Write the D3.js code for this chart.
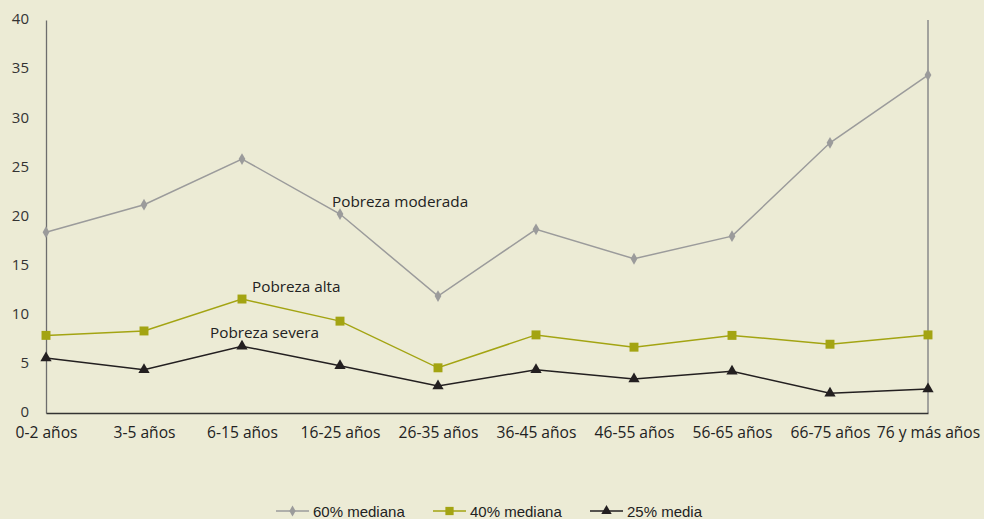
<!DOCTYPE html>
<html>
<head>
<meta charset="utf-8">
<script src="https://cdn.jsdelivr.net/npm/d3@7"></script>
<style>
body { margin: 0; background: #ecebd5; }
svg { display: block; }
</style>
</head>
<body>
<script>
var categories = ["0-2 años", "3-5 años", "6-15 años", "16-25 años", "26-35 años",
        "36-45 años", "46-55 años", "56-65 años", "66-75 años", "76 y más años"];
var mediana60 = [18.4, 21.2, 25.85, 20.25, 11.9, 18.7, 15.7, 18.0, 27.5, 34.4];
var mediana40 = [7.9, 8.35, 11.6, 9.35, 4.6, 7.95, 6.7, 7.9, 7.0, 7.95];
var media25 = [5.6, 4.4, 6.8, 4.8, 2.75, 4.4, 3.45, 4.25, 2.0, 2.45];
var yTicks = [0, 5, 10, 15, 20, 25, 30, 35, 40];

var width = 984, height = 519;

var svg = d3.select("body").append("svg")
        .attr("width", width)
        .attr("height", height);

svg.append("rect").attr("width", width).attr("height", height).attr("fill", "#ecebd5");

var x = d3.scalePoint().domain(categories).range([46, 928]).padding(0);
var y = d3.scaleLinear().domain([0, 40]).range([413, 20]);

var tickFont = "'Open Sans', 'Noto Sans', sans-serif";

// y axis
var yAxis = svg.append("g")
        .attr("transform", "translate(46,0)")
        .call(d3.axisLeft(y).tickValues(yTicks).tickSize(0).tickPadding(17));
yAxis.select(".domain").attr("stroke", "#6d6d6d").attr("stroke-width", 1.3);
yAxis.selectAll("text").attr("font-family", tickFont).attr("font-size", 15).attr("fill", "#333")
        .attr("dy", "0.25em");

// right vertical line
svg.append("line")
        .attr("x1", 928).attr("x2", 928)
        .attr("y1", y(40)).attr("y2", y(0))
        .attr("stroke", "#8a8a8a").attr("stroke-width", 1.5);

// x axis
var xAxis = svg.append("g")
        .attr("transform", "translate(0," + y(0) + ")")
        .call(d3.axisBottom(x).tickSize(0).tickPadding(14));
xAxis.select(".domain").attr("stroke", "#333").attr("stroke-width", 1.3);
xAxis.selectAll("text").attr("font-family", tickFont).attr("font-size", 15.6).attr("fill", "#222");

var series = [
    { name: "60% mediana", values: mediana60, color: "#9b9b9b", symbol: d3.symbolDiamond, size: 40 },
    { name: "40% mediana", values: mediana40, color: "#a3a412", symbol: d3.symbolSquare, size: 80 },
    { name: "25% media", values: media25, color: "#231f20", symbol: d3.symbolTriangle, size: 55 }
];

var line = d3.line()
        .x(function (d, i) { return x(categories[i]); })
        .y(function (d) { return y(d); });

series.forEach(function (s) {
    svg.append("path")
        .datum(s.values)
        .attr("fill", "none")
        .attr("stroke", s.color)
        .attr("stroke-width", 1.5)
        .attr("d", line);

    svg.selectAll(null)
        .data(s.values)
        .enter()
        .append("path")
        .attr("d", d3.symbol().type(s.symbol).size(s.size))
        .attr("fill", s.color)
        .attr("transform", function (d, i) {
            return "translate(" + x(categories[i]) + "," + y(d) + ")";
        });
});

// annotations
var notes = [
    { text: "Pobreza moderada", x: 332, y: 207 },
    { text: "Pobreza alta", x: 252, y: 292 },
    { text: "Pobreza severa", x: 210, y: 338 }
];
svg.selectAll(".note")
        .data(notes)
        .enter()
        .append("text")
        .attr("class", "note")
        .attr("x", function (d) { return d.x; })
        .attr("y", function (d) { return d.y; })
        .attr("font-family", tickFont)
        .attr("font-size", 15.3)
        .attr("fill", "#222")
        .text(function (d) { return d.text; });

// legend
var legendX = [276, 433, 590];
var legend = svg.selectAll(".legend")
        .data(series)
        .enter()
        .append("g")
        .attr("class", "legend")
        .attr("transform", function (d, i) { return "translate(" + legendX[i] + ",511)"; });

legend.append("line")
        .attr("x1", 0).attr("x2", 33)
        .attr("stroke", function (d) { return d.color; })
        .attr("stroke-width", 1.5);
legend.append("path")
        .attr("d", function (d) { return d3.symbol().type(d.symbol).size(d.size * 0.85)(); })
        .attr("transform", "translate(16.5,0)")
        .attr("fill", function (d) { return d.color; });
legend.append("text")
        .attr("x", 37)
        .attr("y", 5.5)
        .attr("font-family", "'Liberation Sans', Arial, sans-serif")
        .attr("font-size", 15)
        .attr("fill", "#222")
        .text(function (d) { return d.name; });
</script>
</body>
</html>
